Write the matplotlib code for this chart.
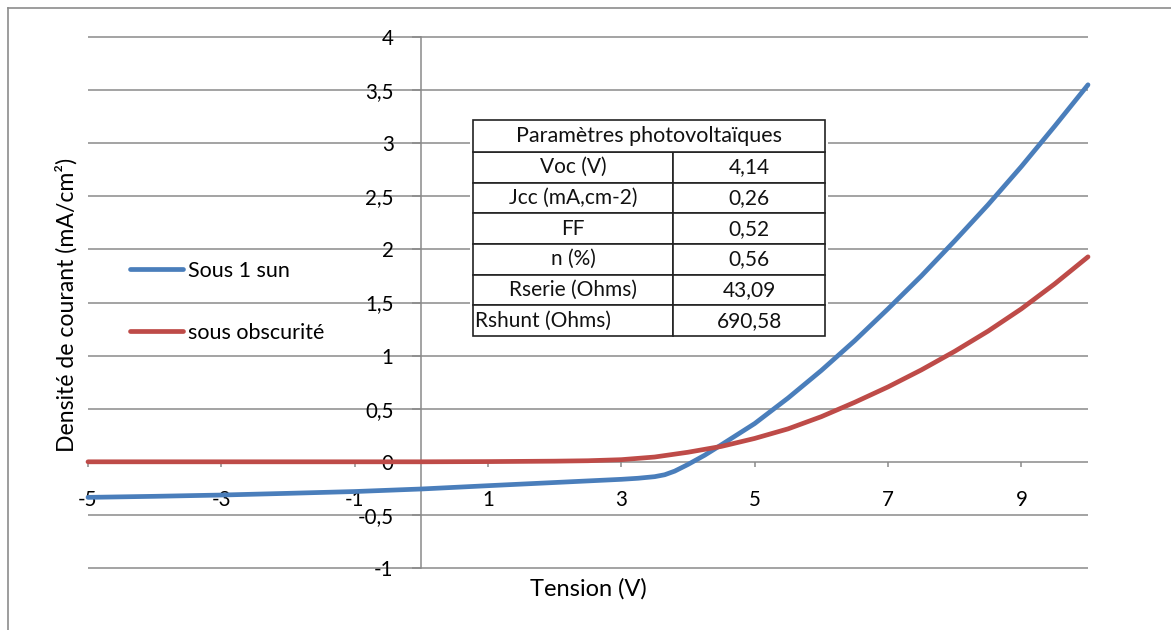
import matplotlib
matplotlib.use("Agg")
import matplotlib.pyplot as plt
from matplotlib.patches import Rectangle
from matplotlib.lines import Line2D

plt.rcParams['font.family'] = ['Lato', 'DejaVu Sans']

# ---- data ----
x_sun = [-5, -4, -3, -2, -1, 0, 1, 2, 3, 3.25, 3.5, 3.65, 3.8, 4, 4.25, 4.5, 4.75, 5,
         5.5, 6, 6.5, 7, 7.5, 8, 8.5, 9, 9.5, 10]
y_sun = [-0.335, -0.325, -0.313, -0.297, -0.28, -0.256, -0.225, -0.195, -0.165,
         -0.155, -0.14, -0.122, -0.088, -0.025, 0.062, 0.16, 0.26, 0.36, 0.60, 0.86, 1.14,
         1.44, 1.75, 2.08, 2.42, 2.78, 3.16, 3.55]
x_dark = [-5, -4, -3, -2, -1, 0, 1, 2, 2.5, 3, 3.5, 4, 4.5, 5, 5.5, 6, 6.5,
          7, 7.5, 8, 8.5, 9, 9.5, 10]
y_dark = [0.0, 0.0, 0.0, 0.0, 0.0, 0.0, 0.002, 0.006, 0.01, 0.02, 0.045, 0.09,
          0.145, 0.22, 0.31, 0.425, 0.56, 0.705, 0.865, 1.04, 1.23, 1.44, 1.675, 1.93]
label_sun = "Sous 1 sun"
label_dark = "sous obscurité"
x_ticks = [-5, -3, -1, 1, 3, 5, 7, 9]
y_ticks = [-1, -0.5, 0, 0.5, 1, 1.5, 2, 2.5, 3, 3.5, 4]
table_title = "Paramètres photovoltaïques"
param_names = ["Voc (V)", "Jcc (mA,cm-2)", "FF", "n (%)", "Rserie (Ohms)", "Rshunt (Ohms)"]
param_values = ["4,14", "0,26", "0,52", "0,56", "43,09", "690,58"]

W, H = 1171, 630
fig = plt.figure(figsize=(W / 100, H / 100), dpi=100)

def fx(px):
    return px / W

def fy(py):
    return 1 - py / H

# outer frame (left and top edges visible)
fig.add_artist(Line2D([fx(8), fx(8)], [fy(8), 0], transform=fig.transFigure, color='#8c8c8c', lw=1.2))
fig.add_artist(Line2D([fx(8), 1], [fy(8), fy(8)], transform=fig.transFigure, color='#8c8c8c', lw=1.2))

ax = fig.add_axes([fx(88), fy(568), fx(1088) - fx(88), fy(37) - fy(568)])
ax.set_xlim(-5, 10)
ax.set_ylim(-1, 4)

grid_c = '#8a8a8a'
ax.hlines(y_ticks, -5, 10, colors=grid_c, lw=1.1, zorder=1, clip_on=False)

for s in ['top', 'right', 'bottom']:
    ax.spines[s].set_visible(False)
ax.spines['left'].set_position(('data', 0))
ax.spines['left'].set_color(grid_c)
ax.spines['left'].set_linewidth(1.1)
ax.spines['left'].set_zorder(1)
ax.spines['bottom'].set_position(('data', 0))

ax.set_yticks(y_ticks)
ax.set_yticklabels([f"{v:g}".replace('.', ',') for v in y_ticks])
ax.set_xticks(x_ticks)
ax.set_xticklabels([str(v) for v in x_ticks])
ax.tick_params(axis='y', direction='out', length=6.5, width=1.1, color=grid_c,
               pad=13.5, labelsize=14.8)
ax.tick_params(axis='x', direction='out', length=3.6, width=1.1, color=grid_c,
               pad=16.5, labelsize=14.8)

ax.plot(x_sun, y_sun, color='#4A7EBB', lw=3.4, solid_capstyle='round',
        solid_joinstyle='round', label=label_sun, zorder=3, clip_on=False)
ax.plot(x_dark, y_dark, color='#BE4B48', lw=3.4, solid_capstyle='round',
        solid_joinstyle='round', label=label_dark, zorder=3, clip_on=False)

fig.text(fx(588), fy(589), "Tension (V)", ha='center', va='center', fontsize=17)
fig.text(fx(66), fy(305), "Densité de courant (mA/cm²)", ha='center', va='center',
         rotation=90, fontsize=16.6)

leg = ax.legend(loc='center left', bbox_to_anchor=(fx(130), fy(302)),
                bbox_transform=fig.transFigure, frameon=False, fontsize=15.5,
                handlelength=2.45, handletextpad=0.25, labelspacing=1.95,
                borderaxespad=0, borderpad=0)

# ---- table ----
tx0, tx1, txm = 473, 825, 673
tb = ax.table(cellText=[[n, v] for n, v in zip(param_names, param_values)],
              cellLoc='center',
              bbox=[(tx0 - 88) / 1000, (568 - 336) / 531, (tx1 - tx0) / 1000, (336 - 152) / 531],
              colWidths=[(txm - tx0), (tx1 - txm)], zorder=5)
tb.auto_set_font_size(False)
tb.set_fontsize(15)
for (r, c), cell in tb.get_celld().items():
    cell.set_edgecolor('#222222')
    cell.set_linewidth(1.2)
    cell.set_facecolor('white')
    cell.get_text().set_color('#111111')
    if r == len(param_names) - 1 and c == 0:
        cell.get_text().set_ha('left')
        cell.PAD = 0.01

def dx(px):
    return (px - 88) / 1000 * 15 - 5

def dy(py):
    return (568 - py) / 531 * 5 - 1

# title row
ax.add_patch(Rectangle((dx(tx0), dy(152)), dx(tx1) - dx(tx0), dy(120) - dy(152),
                       fc='white', ec='#222222', lw=1.2, zorder=5, clip_on=False))
ax.text(dx((tx0 + tx1) / 2), dy(136), table_title,
        ha='center', va='center', fontsize=15.5, color='#111111', zorder=6)
# white margin behind table to hide gridlines
ax.add_patch(Rectangle((dx(tx0 - 3), dy(338)), dx(tx1 + 3) - dx(tx0 - 3), dy(118) - dy(338),
                       fc='white', ec='none', zorder=4, clip_on=False))

fig.savefig("out.png", dpi=100)
